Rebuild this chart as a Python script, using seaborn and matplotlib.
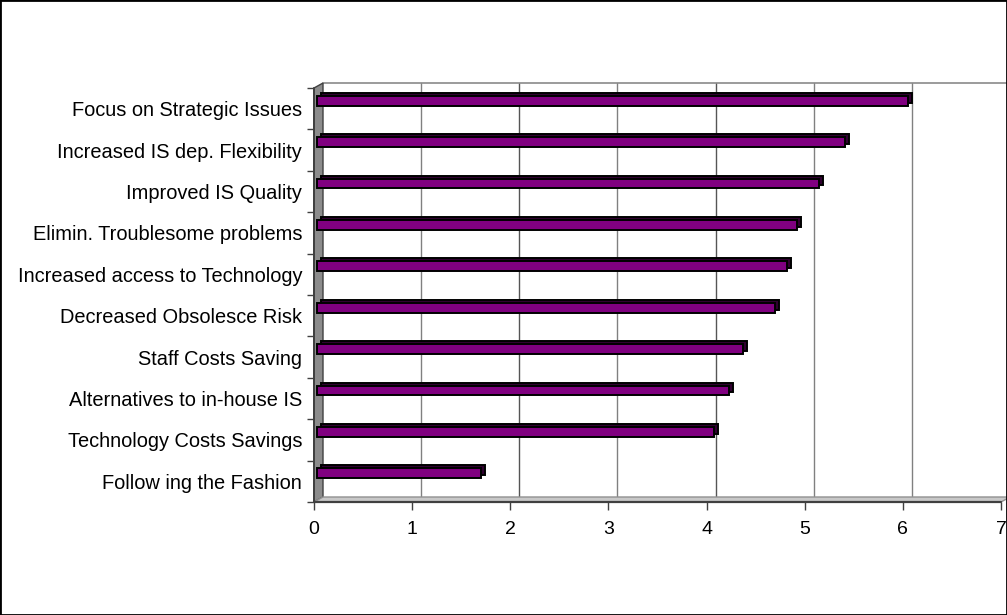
import matplotlib
matplotlib.use("Agg")
import matplotlib.pyplot as plt
import seaborn as sns
import pandas as pd
from matplotlib.transforms import ScaledTranslation
from matplotlib.patches import Polygon, Rectangle

categories = [
    "Focus on Strategic Issues",
    "Increased IS dep. Flexibility",
    "Improved IS Quality",
    "Elimin. Troublesome problems",
    "Increased access to Technology",
    "Decreased Obsolesce Risk",
    "Staff Costs Saving",
    "Alternatives to in-house IS",
    "Technology Costs Savings",
    "Follow ing the Fashion",
]
values = [6.03, 5.38, 5.12, 4.90, 4.79, 4.67, 4.35, 4.20, 4.05, 1.68]
x_ticks = [0, 1, 2, 3, 4, 5, 6, 7]

W, H, DPI = 1007, 615, 100
sns.set_theme(style="white")
plt.rcParams["font.family"] = ["Liberation Sans", "DejaVu Sans"]

fig = plt.figure(figsize=(W / DPI, H / DPI), dpi=DPI)
fig.patch.set_facecolor("white")
L, R, B, T = 314, 1001, 502, 88
ax = fig.add_axes([L / W, 1 - B / H, (R - L) / W, (B - T) / H])
ax.set_facecolor("none")

n = len(categories)
xmax = x_ticks[-1]
ax.set_xlim(0, xmax)
ax.set_ylim(n - 0.5, -0.5)

df = pd.DataFrame({"category": categories, "value": values})


def shifted(dx, dy):
    return ax.transData + ScaledTranslation(dx / DPI, dy / DPI, fig.dpi_scale_trans)


# depth faces (dark) then front faces
sns.barplot(data=df, x="value", y="category", orient="h", color="#300030",
            saturation=1, width=0.24, edgecolor="black", linewidth=1.4,
            errorbar=None, ax=ax)
n_back = len(ax.patches)
sns.barplot(data=df, x="value", y="category", orient="h", color="#800080",
            saturation=1, width=0.24, edgecolor="black", linewidth=1.4,
            errorbar=None, ax=ax)
ax.set_xlim(0, xmax)
ax.set_ylim(n - 0.5, -0.5)
for i, p in enumerate(ax.patches):
    if i < n_back:
        p.set_transform(shifted(6.5, 11.0))
    else:
        p.set_transform(shifted(2.5, 8.0))
    p.set_zorder(5)
    p.set_clip_on(False)

# 3D depth in data units
sx = (R - L) / xmax
sy = (B - T) / n
ddx = 9 / sx
ddy = 5 / sy

# back wall gridlines
for k in x_ticks[1:]:
    ax.plot([k + ddx, k + ddx], [-0.5 - ddy, n - 0.5 - ddy],
            color="#555555" if k in (2, 4) else "#808080",
            lw=1, zorder=1, clip_on=False)
ax.plot([ddx, xmax + 1], [-0.5 - ddy, -0.5 - ddy], color="#8a8a8a", lw=1.2,
        zorder=1, clip_on=False)

# left wall
wall = Polygon([(0, n - 0.5), (0, -0.5), (ddx, -0.5 - ddy), (ddx, n - 0.5 - ddy)],
               closed=True, facecolor="#8c8c8c", edgecolor="#404040", lw=1,
               zorder=2, clip_on=False)
ax.add_patch(wall)
# floor
floor = Polygon([(0, n - 0.5), (xmax, n - 0.5), (xmax + ddx, n - 0.5 - ddy),
                 (ddx, n - 0.5 - ddy)], closed=True, facecolor="#c8c8c8",
                edgecolor="#909090", lw=1, zorder=2, clip_on=False)
ax.add_patch(floor)
ax.plot([0, xmax], [n - 0.5, n - 0.5], color="#404040", lw=1.6, zorder=3,
        clip_on=False)
ax.plot([0, 0], [-0.5, n - 0.5], color="#404040", lw=1.4, zorder=3,
        clip_on=False)

for s in ax.spines.values():
    s.set_visible(False)

ax.set_xticks(x_ticks)
ax.set_xticklabels([str(t) for t in x_ticks])
ax.set_yticks(range(n))
ax.set_yticklabels(categories)
ax.set_yticks([i - 0.5 for i in range(n + 1)], minor=True)
ax.tick_params(axis="x", which="major", bottom=True, length=5.8, width=1,
               color="#404040", pad=8, labelsize=14, labelcolor="black")
ax.tick_params(axis="y", which="major", left=True, length=0, pad=8.6,
               labelsize=14.4, labelcolor="black")
ax.tick_params(axis="y", which="minor", left=True, length=5, width=1,
               color="#404040")
ax.set_xlabel("")
ax.set_ylabel("")
ax.grid(False)

fig.add_artist(Rectangle((0, 0), 1, 1, transform=fig.transFigure, fill=False,
                         edgecolor="black", lw=2))

fig.savefig("out.png", dpi=DPI)
